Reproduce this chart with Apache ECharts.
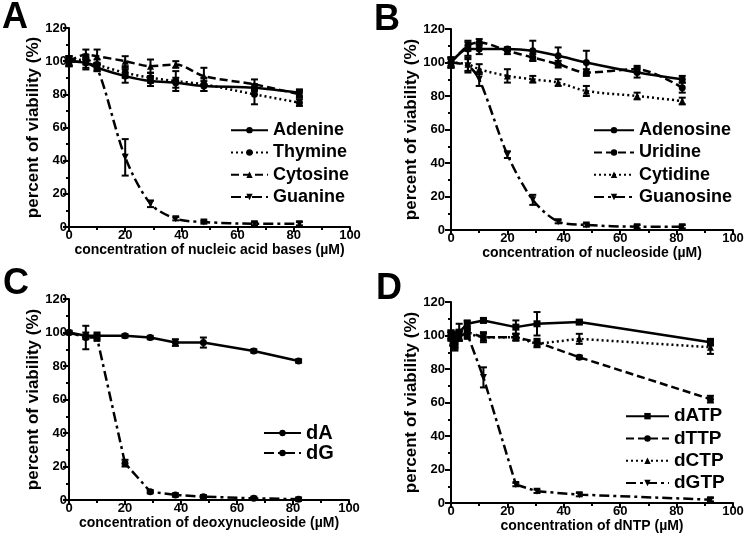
<!DOCTYPE html>
<html>
<head>
<meta charset="utf-8">
<script src="https://cdn.jsdelivr.net/npm/echarts@6/dist/echarts.min.js"></script>
<style>html,body{margin:0;padding:0;background:#fff;}#c{width:747px;height:542px;}</style>
</head>
<body>
<div id="c"></div>
<script>
// ---------- data ----------
const xTickValues = [0, 20, 40, 60, 80, 100];
const yTickValues = [0, 20, 40, 60, 80, 100, 120];

// Panel A: nucleic acid bases
const concA = [0, 6, 10, 20, 29, 38, 48, 66, 82];
const adenine = [100, 99, 96, 91, 88, 87, 85, 84, 81];
const adenineErr = [3, 4, 2, 4, 3, 3, 3, 2, 2];
const thymine = [100, 101, 98, 93, 90, 88, 86, 80, 75];
const thymineErr = [3, 3, 3, 3, 3, 6, 4, 6, 2];
const cytosine = [100, 104, 103, 100, 97, 98, 91, 86, 80];
const cytosineErr = [3, 3, 4, 3, 4, 2, 5, 3, 2];
const guanine = [100, 99, 96, 42, 14, 5, 3, 2, 2];
const guanineErr = [2, 3, 2, 11, 2, 1, 1, 1, 1];

// Panel B: nucleosides
const concB = [0, 6, 10, 20, 29, 38, 48, 66, 82];
const adenosine = [100, 108, 108, 108, 107, 104, 100, 94, 90];
const adenosineErr = [3, 4, 3, 1, 6, 5, 7, 3, 2];
const uridine = [100, 110, 112, 107, 103, 99, 94, 96, 85];
const uridineErr = [3, 3, 2, 2, 2, 2, 2, 2, 3];
const cytidine = [100, 99, 96, 92, 90, 88, 83, 80, 77];
const cytidineErr = [3, 4, 3, 4, 2, 2, 3, 2, 2];
const guanosine = [100, 98, 90, 45, 18, 5, 3, 2, 2];
const guanosineErr = [2, 4, 4, 2, 3, 1, 1, 1, 1];

// Panel C: deoxynucleosides
const concC = [0, 6, 10, 20, 29, 38, 48, 66, 82];
const dA = [100, 98, 98, 98, 97, 94, 94, 89, 83];
const dAErr = [1, 2, 2, 1, 1, 2, 3, 1, 1];
const dG = [100, 97, 97, 22, 5, 3, 2, 1, 0.5];
const dGErr = [1, 7, 2, 2, 1, 1, 1, 1, 1];

// Panel D: dNTPs
const concD = [0, 0.7, 1.4, 2.9, 5.75, 11.5, 23, 30.5, 45.5, 92];
const dATP = [100, 98, 96, 102, 107, 109, 105, 107, 108, 96];
const dATPErr = [3, 4, 3, 5, 2, 1, 4, 7, 1, 2];
const dTTP = [100, 97, 95, 100, 102, 99, 99, 96, 87, 62];
const dTTPErr = [2, 3, 3, 3, 2, 2, 2, 2, 1, 2];
const dCTP = [100, 98, 96, 100, 101, 99, 99, 95, 98, 93];
const dCTPErr = [3, 3, 3, 3, 3, 3, 2, 2, 3, 4];
const dGTP = [100, 97, 94, 100, 101, 75, 11, 7, 5, 2];
const dGTPErr = [2, 3, 3, 3, 2, 6, 1, 1, 1, 1];

// ---------- styles ----------
const FONT = "'Liberation Sans', Arial, sans-serif";
const SOLID = 'solid', DOT = [2, 3], DASH = [8, 4], DASHDOT = [10, 4, 3, 4];
const DOWN = 'path://M0,0 L10,0 L5,10 Z';

const grids = [
  {left: 69, top: 28, width: 281, height: 199},
  {left: 451, top: 29, width: 282, height: 201},
  {left: 69, top: 299, width: 280, height: 201},
  {left: 451, top: 302, width: 282, height: 201}
];
const xNames = ['concentration of nucleic acid bases (µM)', 'concentration of nucleoside (µM)',
  'concentration of deoxynucleoside (µM)', 'concentration of dNTP (µM)'];

function xAxisFor(i) {
  return {
    gridIndex: i, type: 'value', min: xTickValues[0], max: xTickValues[xTickValues.length - 1],
    interval: xTickValues[1] - xTickValues[0],
    name: xNames[i], nameLocation: 'middle', nameGap: 14,
    nameTextStyle: {fontFamily: FONT, fontWeight: 'bold', fontSize: 14, color: '#000'},
    axisLine: {onZero: false, lineStyle: {color: '#000', width: 2}},
    axisTick: {length: 5, lineStyle: {width: 2, color: '#000'}},
    minorTick: {show: true, splitNumber: 2, length: 3, lineStyle: {width: 2, color: '#000'}},
    axisLabel: {margin: 2, fontFamily: FONT, fontWeight: 'bold', fontSize: 13, color: '#000'},
    splitLine: {show: false}
  };
}
function yAxisFor(i) {
  return {
    gridIndex: i, type: 'value', min: yTickValues[0], max: yTickValues[yTickValues.length - 1],
    interval: yTickValues[1] - yTickValues[0],
    name: 'percent of viability (%)', nameLocation: 'middle', nameGap: i % 2 ? 31 : 27,
    nameTextStyle: {fontFamily: FONT, fontWeight: 'bold', fontSize: 17, color: '#000'},
    axisLine: {onZero: false, lineStyle: {color: '#000', width: 2}},
    axisTick: {length: 6, lineStyle: {width: 2, color: '#000'}},
    minorTick: {show: true, splitNumber: 2, length: 3, lineStyle: {width: 2, color: '#000'}},
    axisLabel: {margin: i % 2 ? 6 : 2, fontFamily: FONT, fontWeight: 'bold', fontSize: 13, color: '#000'},
    splitLine: {show: false}
  };
}

const series = [];
function addSeries(gi, name, xs, ys, errs, lineType, symbol, smooth) {
  series.push({
    type: 'line', name: name, xAxisIndex: gi, yAxisIndex: gi,
    data: xs.map((x, k) => [x, ys[k]]),
    lineStyle: {color: '#000', width: 2.5, type: lineType},
    itemStyle: {color: '#000'},
    symbol: symbol, symbolSize: 7, showSymbol: true,
    smooth: smooth ? 0.3 : false, z: 3
  });
  series.push({
    type: 'custom', name: name + ' error', xAxisIndex: gi, yAxisIndex: gi,
    data: xs.map((x, k) => [x, ys[k] - errs[k], ys[k] + errs[k]]),
    encode: {x: 0, y: [1, 2]}, z: 2,
    renderItem: function (params, api) {
      const x = api.value(0);
      const p1 = api.coord([x, api.value(1)]);
      const p2 = api.coord([x, api.value(2)]);
      const w = 3.5;
      const st = {stroke: '#000', lineWidth: 2};
      return {type: 'group', children: [
        {type: 'line', shape: {x1: p1[0], y1: p1[1], x2: p2[0], y2: p2[1]}, style: st},
        {type: 'line', shape: {x1: p1[0] - w, y1: p1[1], x2: p1[0] + w, y2: p1[1]}, style: st},
        {type: 'line', shape: {x1: p2[0] - w, y1: p2[1], x2: p2[0] + w, y2: p2[1]}, style: st}
      ]};
    }
  });
}

addSeries(0, 'Adenine', concA, adenine, adenineErr, SOLID, 'circle', true);
addSeries(0, 'Thymine', concA, thymine, thymineErr, DOT, 'circle', true);
addSeries(0, 'Cytosine', concA, cytosine, cytosineErr, DASH, 'triangle', true);
addSeries(0, 'Guanine', concA, guanine, guanineErr, DASHDOT, DOWN, true);

addSeries(1, 'Adenosine', concB, adenosine, adenosineErr, SOLID, 'circle', true);
addSeries(1, 'Uridine', concB, uridine, uridineErr, DASH, 'circle', true);
addSeries(1, 'Cytidine', concB, cytidine, cytidineErr, DOT, 'triangle', true);
addSeries(1, 'Guanosine', concB, guanosine, guanosineErr, DASHDOT, DOWN, true);

addSeries(2, 'dA', concC, dA, dAErr, SOLID, 'circle', false);
addSeries(2, 'dG', concC, dG, dGErr, DASHDOT, 'circle', false);

addSeries(3, 'dATP', concD, dATP, dATPErr, SOLID, 'rect', false);
addSeries(3, 'dTTP', concD, dTTP, dTTPErr, DASH, 'circle', false);
addSeries(3, 'dCTP', concD, dCTP, dCTPErr, DOT, 'triangle', false);
addSeries(3, 'dGTP', concD, dGTP, dGTPErr, DASHDOT, DOWN, false);

function legendFor(names, left, top, iw, fs, lh) {
  return {
    data: names, left: left, top: top, orient: 'vertical', itemWidth: iw, itemHeight: 8,
    itemGap: 0, padding: 0, selectedMode: false,
    textStyle: {fontFamily: FONT, fontWeight: 'bold', fontSize: fs, lineHeight: lh, color: '#000'}
  };
}

const letters = [['A', 2, 0], ['B', 374, 2], ['C', 3, 266], ['D', 376, 271]];

const option = {
  animation: false,
  backgroundColor: '#fff',
  grid: grids,
  xAxis: [0, 1, 2, 3].map(xAxisFor),
  yAxis: [0, 1, 2, 3].map(yAxisFor),
  legend: [
    legendFor(['Adenine', 'Thymine', 'Cytosine', 'Guanine'], 230, 119, 37, 18, 22.3),
    legendFor(['Adenosine', 'Uridine', 'Cytidine', 'Guanosine'], 593, 119, 40, 18, 22.3),
    legendFor(['dA', 'dG'], 263, 423, 37, 20, 20),
    legendFor(['dATP', 'dTTP', 'dCTP', 'dGTP'], 625, 405, 43, 19, 22.3)
  ],
  graphic: letters.map(l => ({
    type: 'text', left: l[1], top: l[2],
    style: {text: l[0], fontFamily: FONT, fontWeight: 'bold', fontSize: 36, fill: '#000'}
  })),
  series: series
};

const chart = echarts.init(document.getElementById('c'), null, {renderer: 'canvas'});
chart.setOption(option);
</script>
</body>
</html>
